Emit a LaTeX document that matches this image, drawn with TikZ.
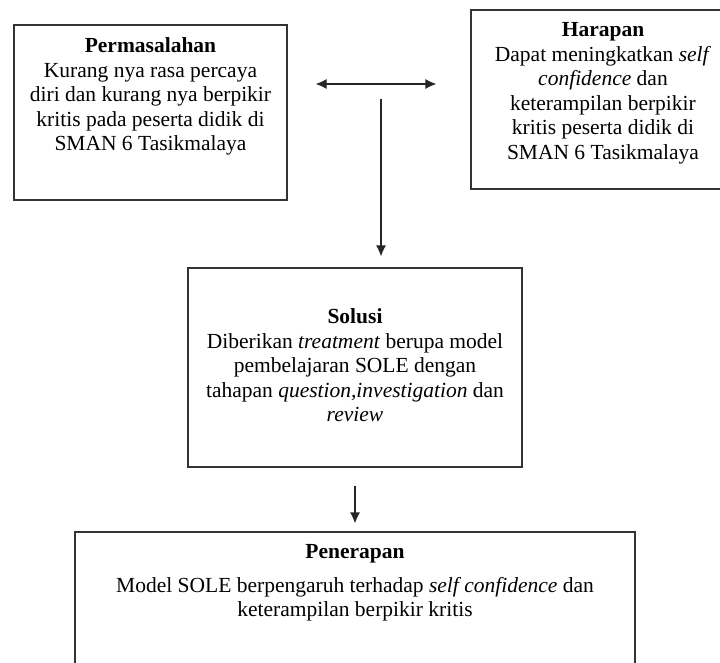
\documentclass[tikz,border=0pt]{standalone}
\usepackage{fontspec}
\setmainfont{Liberation Serif}
\usetikzlibrary{arrows.meta,positioning}

\begin{document}
\begin{tikzpicture}[x=1pt,y=-1pt,
    kotak/.style={draw=black!80,line width=1.2pt,rectangle},
    isi/.style={anchor=north,align=center,inner sep=0pt,font=\fontsize{21.5}{24.5}\selectfont},
    panah/.style={draw=black!85,line width=1.2pt,-{Latex[length=11pt,width=10pt]}}]
    \clip (0,0) rectangle (720,662);

    \node[kotak,minimum width=273pt,minimum height=175pt] (masalah) at (150.5,112.5) {};
    \node[kotak,minimum width=264pt,minimum height=179pt] (harapan) at (603,99.5) {};
    \node[kotak,minimum width=334pt,minimum height=199pt] (solusi) at (355,367.5) {};
    \node[kotak,minimum width=560pt,minimum height=180pt] (penerapan) at (355,622) {};

    \node[isi] (masalahisi) [below=13pt of masalah.north]
        {\textbf{Permasalahan}\\ Kurang nya rasa percaya\\ diri dan kurang nya berpikir\\
         kritis pada peserta didik di\\ SMAN 6 Tasikmalaya};
    \node[isi] (harapanisi) [below=13pt of harapan.north]
        {\textbf{Harapan}\\ Dapat meningkatkan \textit{self}\\ \textit{confidence} dan\\
         keterampilan berpikir\\ kritis peserta didik di\\ SMAN 6 Tasikmalaya};
    \node[isi] (solusiisi) [below=41pt of solusi.north]
        {\textbf{Solusi}\\ Diberikan \textit{treatment} berupa model\\ pembelajaran SOLE dengan\\
         tahapan \textit{question,investigation} dan\\ \textit{review}};
    \node[isi] (penerapanisi) [below=13pt of penerapan.north]
        {\textbf{Penerapan}\\[9pt] Model SOLE berpengaruh terhadap \textit{self confidence} dan\\
         keterampilan berpikir kritis};

    \coordinate (tengah) at (381,84);
    \draw[panah,{Latex[length=11pt,width=10pt]}-{Latex[length=11pt,width=10pt]},shorten <=28pt,shorten >=34pt]
        (masalah.east |- tengah) -- (harapan.west |- tengah);
    \draw[panah,shorten <=15pt,shorten >=11pt] (tengah) -- (tengah |- solusi.north);
    \draw[panah,shorten <=18pt,shorten >=8pt] (solusi.south) -- (penerapan.north);
\end{tikzpicture}
\end{document}
